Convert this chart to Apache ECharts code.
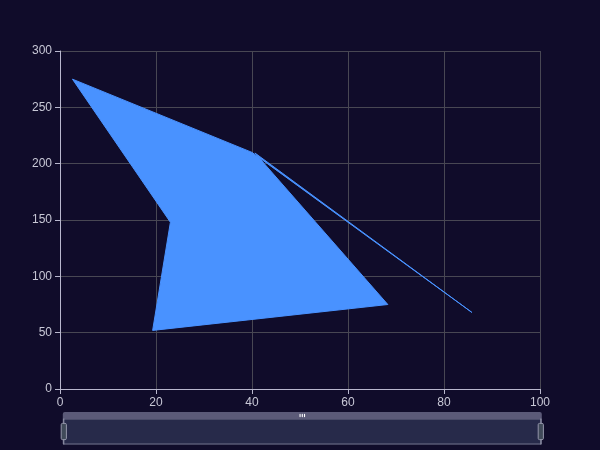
<!DOCTYPE html>
<html>
<head>
<meta charset="utf-8">
<script src="https://cdn.jsdelivr.net/npm/echarts@6/dist/echarts.min.js"></script>
<style>html,body{margin:0;padding:0;background:#100c2a;}#main{width:600px;height:450px;}</style>
</head>
<body>
<div id="main"></div>
<script>
var xValues = [2.6, 40, 85.8, 40.6, 68.3, 19.3, 23];
var yValues = [275, 210, 68, 209.5, 75, 52, 148];
var xTicks = [0, 20, 40, 60, 80, 100];
var yTicks = [0, 50, 100, 150, 200, 250, 300];

var points = xValues.map(function (x, i) { return [x, yValues[i]]; });

var chart = echarts.init(document.getElementById('main'), null, { renderer: 'canvas' });
var axisLabelColor = '#c8c8d6';
var fontFam = '"Liberation Sans", Arial, sans-serif';
var option = {
  backgroundColor: '#100c2a',
  animation: false,
  grid: { left: 60, right: 60, top: 51, bottom: 61 },
  xAxis: {
    type: 'value', min: xTicks[0], max: xTicks[xTicks.length - 1], interval: 20,
    axisLine: { show: true, lineStyle: { color: '#b9b8ce' } },
    axisTick: { show: true, lineStyle: { color: '#b9b8ce' } },
    axisLabel: { color: axisLabelColor, fontSize: 12, fontFamily: fontFam },
    splitLine: { show: true, lineStyle: { color: '#484753' } }
  },
  yAxis: {
    type: 'value', min: yTicks[0], max: yTicks[yTicks.length - 1], interval: 50,
    axisLine: { show: true, lineStyle: { color: '#b9b8ce' } },
    axisTick: { show: true, lineStyle: { color: '#b9b8ce' } },
    axisLabel: { color: axisLabelColor, fontSize: 12, fontFamily: fontFam },
    splitLine: { show: true, lineStyle: { color: '#484753' } }
  },
  dataZoom: [{
    type: 'slider', xAxisIndex: 0, filterMode: 'none',
    left: 60, right: 61, bottom: 12, height: 26,
    showDetail: false,
    backgroundColor: 'rgba(47,69,84,0)',
    borderColor: '#71708a',
    fillerColor: 'rgba(135,163,206,0.2)',
    dataBackground: { lineStyle: { opacity: 0 }, areaStyle: { opacity: 0 } },
    selectedDataBackground: { lineStyle: { opacity: 0 }, areaStyle: { opacity: 0 } },
    handleStyle: { color: '#404a59', borderColor: '#9496aa' },
    moveHandleStyle: { color: '#5b5a78', opacity: 1 }
  }],
  series: [{
    type: 'custom',
    data: [0],
    renderItem: function (params, api) {
      var pts = points.map(function (p) { return api.coord(p); });
      return {
        type: 'polygon',
        shape: { points: pts },
        style: { fill: '#4992ff', stroke: '#4992ff', lineWidth: 1 }
      };
    }
  }]
};
chart.setOption(option);
</script>
</body>
</html>
